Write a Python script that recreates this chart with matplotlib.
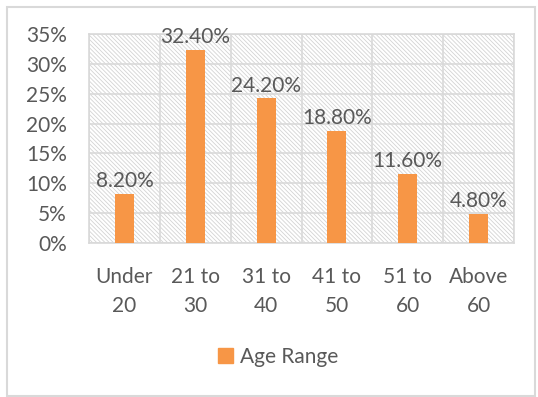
import matplotlib
matplotlib.use("Agg")
import matplotlib.pyplot as plt
from matplotlib.patches import Rectangle, Patch
from matplotlib.ticker import FuncFormatter

# age groups and share of respondents (%)
categories = ["Under\n20", "21 to\n30", "31 to\n40", "41 to\n50", "51 to\n60", "Above\n60"]
shares = [8.2, 32.4, 24.2, 18.8, 11.6, 4.8]
series_name = "Age Range"

bar_color = "#F79646"
text_color = "#595959"
grid_color = "#D9D9D9"
fs = 15

plt.rcParams["font.family"] = ["Lato", "DejaVu Sans"]
plt.rcParams["hatch.linewidth"] = 0.6
plt.rcParams["hatch.color"] = "#D3D3D3"

fig = plt.figure(figsize=(5.38, 3.97), dpi=100)
ax = fig.add_axes([89 / 538, 1 - 243 / 397, 425 / 538, 209 / 397])

# striped background of the plot area
ax.add_patch(Rectangle((0, 0), 1, 1, transform=ax.transAxes, facecolor="white",
                       edgecolor="#D3D3D3", hatch="\\" * 8, lw=0, zorder=0))

x = list(range(len(categories)))
bars = ax.bar(x, shares, width=0.27, color=bar_color, zorder=3)
for b, v in zip(bars, shares):
    ax.text(b.get_x() + b.get_width() / 2, v + 0.5, f"{v:.2f}%", ha="center", va="bottom",
            fontsize=fs, color=text_color, zorder=4)

ax.set_xlim(-0.5, len(categories) - 0.5)
ax.set_ylim(0, 35)
ax.set_yticks(range(0, 36, 5))
ax.yaxis.set_major_formatter(FuncFormatter(lambda v, p: f"{v:.0f}%"))
ax.set_xticks(x)
ax.set_xticklabels(categories, linespacing=1.6)

# category boundaries as vertical gridlines
ax.set_xticks([i - 0.5 for i in range(len(categories) + 1)], minor=True)
ax.grid(True, axis="y", which="major", color=grid_color, lw=1.2, zorder=1)
ax.grid(True, axis="x", which="minor", color=grid_color, lw=1.2, zorder=1)
ax.tick_params(axis="both", which="both", length=0, labelsize=fs, labelcolor=text_color)
ax.tick_params(axis="x", pad=17)
ax.tick_params(axis="y", pad=16)
for s in ax.spines.values():
    s.set_color(grid_color)
    s.set_linewidth(1.2)
ax.set_axisbelow(True)

fig.legend(handles=[Patch(color=bar_color, label=series_name)], loc="center",
           bbox_to_anchor=(278 / 538, 1 - 357 / 397), frameon=False, fontsize=fs,
           labelcolor=text_color, handlelength=0.7, handleheight=0.7, handletextpad=0.35)

# outer chart border
fig.add_artist(Rectangle((7 / 538, 1 / 397), 528 / 538, 389 / 397, transform=fig.transFigure,
                         fill=False, edgecolor="#D9D9D9", lw=1.5))

fig.savefig("out.png", dpi=100)
